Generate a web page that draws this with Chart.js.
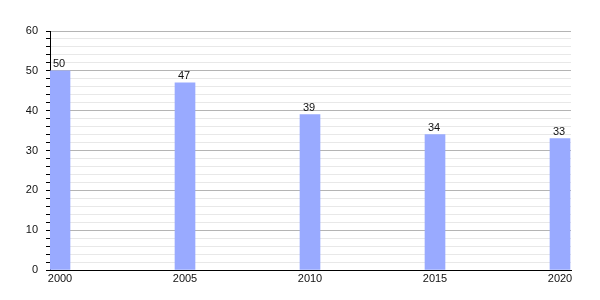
<!DOCTYPE html>
<html>
<head>
<meta charset="utf-8">
<script src="https://cdn.jsdelivr.net/npm/chart.js@4/dist/chart.umd.min.js"></script>
<style>
  html, body { margin: 0; padding: 0; background: #fff; }
  #wrap { width: 600px; height: 300px; }
</style>
</head>
<body>
<div id="wrap"><canvas id="myChart"></canvas></div>
<script>
// data
const years = [2000, 2005, 2010, 2015, 2020];
const values = [50, 47, 39, 34, 33];
const yTicks = [0, 10, 20, 30, 40, 50, 60];

const BAR_OFFSET = 0.4; // bars sit just right of the year

// value labels on top of bars
const valueLabels = {
  id: 'valueLabels',
  afterDatasetsDraw(chart) {
    const ctx = chart.ctx;
    const meta = chart.getDatasetMeta(0);
    ctx.save();
    ctx.font = '11px "Liberation Sans", Arial, sans-serif';
    ctx.fillStyle = '#111';
    ctx.textAlign = 'center';
    ctx.textBaseline = 'bottom';
    meta.data.forEach((bar, i) => {
      ctx.fillText(String(values[i]), bar.x - 1, bar.y - 1);
    });
    ctx.restore();
  }
};

Chart.defaults.font.family = '"Liberation Sans", Arial, sans-serif';
Chart.defaults.font.size = 11;
Chart.defaults.color = '#111';

const ctx = document.getElementById('myChart').getContext('2d');
new Chart(ctx, {
  type: 'bar',
  data: {
    datasets: [{
      data: years.map((y, i) => ({ x: y + BAR_OFFSET, y: values[i] })),
      backgroundColor: '#99aaff',
      borderWidth: 0,
      barThickness: 20
    }]
  },
  options: {
    responsive: true,
    maintainAspectRatio: false,
    animation: false,
    layout: { padding: { top: 31, right: 29, left: 0, bottom: 0 } },
    plugins: { legend: { display: false }, tooltip: { enabled: false } },
    scales: {
      x: {
        type: 'linear',
        min: 2000,
        max: 2020.84,
        offset: false,
        afterBuildTicks: axis => { axis.ticks = years.map(y => ({ value: y + BAR_OFFSET })); },
        afterFit: s => { s.height = 30; },
        grid: { drawOnChartArea: false, drawTicks: false, offset: false },
        border: { color: '#000', width: 1 },
        ticks: {
          autoSkip: false,
          maxRotation: 0,
          padding: 2,
          callback: v => String(Math.round(v - BAR_OFFSET))
        }
      },
      y: {
        min: 0,
        max: 60,
        afterFit: s => { s.width = 50; },
        border: { color: '#000', width: 1 },
        grid: {
          color: c => (c.tick && c.tick.value % 10 === 0) ? '#b4b4b4' : '#e8e8e8',
          tickColor: '#000',
          tickLength: 4
        },
        ticks: {
          stepSize: 2,
          padding: 8,
          autoSkip: false,
          callback: v => yTicks.includes(v) ? String(v) : ''
        }
      }
    }
  },
  plugins: [valueLabels]
});
</script>
</body>
</html>
